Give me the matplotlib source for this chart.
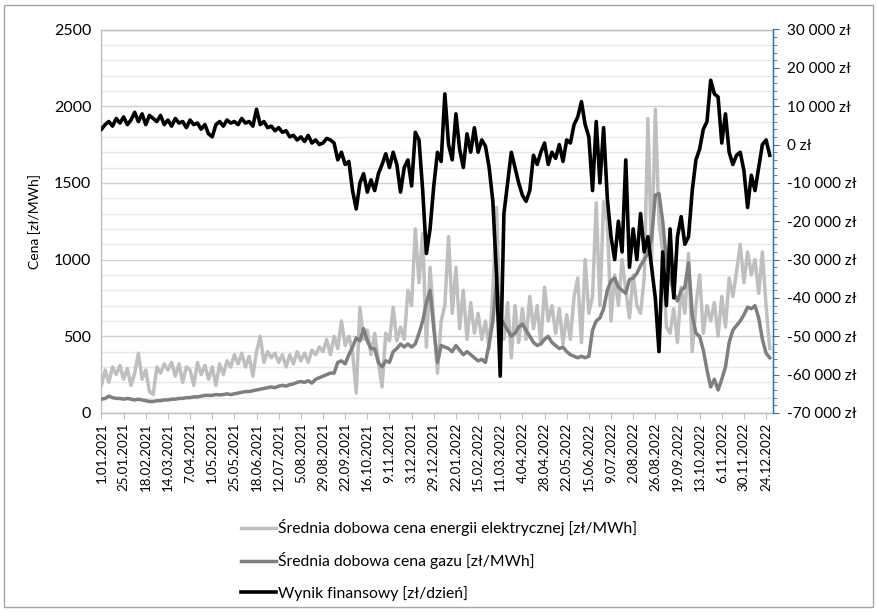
import matplotlib
matplotlib.use("Agg")
import matplotlib.pyplot as plt
from matplotlib.patches import Rectangle
from matplotlib.ticker import MultipleLocator, FuncFormatter

plt.rcParams['font.family'] = ['Lato', 'DejaVu Sans']

# Category labels (one every 24 daily categories)
tick_labels = ["1.01.2021", "25.01.2021", "18.02.2021", "14.03.2021", "7.04.2021",
               "1.05.2021", "25.05.2021", "18.06.2021", "12.07.2021", "5.08.2021",
               "29.08.2021", "22.09.2021", "16.10.2021", "9.11.2021", "3.12.2021",
               "29.12.2021", "22.01.2022", "15.02.2022", "11.03.2022", "4.04.2022",
               "28.04.2022", "22.05.2022", "15.06.2022", "9.07.2022", "2.08.2022",
               "26.08.2022", "19.09.2022", "13.10.2022", "6.11.2022", "30.11.2022",
               "24.12.2022"]
n_categories = 728
sample_step = 4  # values read every 4th day

# Średnia dobowa cena energii elektrycznej [zł/MWh]
energia = [180, 280, 200, 300, 250, 310, 220, 290, 180, 260,
           390, 220, 280, 140, 120, 300, 260, 320, 280, 330,
           240, 320, 200, 300, 280, 180, 330, 250, 310, 220,
           300, 180, 320, 250, 340, 300, 380, 320, 390, 300,
           370, 240, 400, 500, 330, 400, 360, 390, 330, 380,
           300, 380, 320, 400, 340, 390, 330, 410, 380, 430,
           400, 480, 380, 500, 420, 600, 440, 500, 400, 130,
           690, 480, 540, 380, 520, 330, 170, 520, 470, 690,
           470, 560, 480, 800, 700, 1200, 850, 1170, 430, 950,
           600, 260, 600, 700, 1150, 650, 950, 550, 800, 480,
           720, 520, 650, 480, 600, 420, 800, 1340, 560, 480,
           720, 360, 700, 460, 680, 480, 760, 550, 700, 450,
           820, 600, 700, 520, 680, 450, 640, 480, 760, 880,
           460, 1000, 650, 760, 1370, 700, 1380, 1250, 600, 900,
           700, 1000, 800, 620, 900, 700, 650, 880, 1920, 1000,
           1980, 1250, 1050, 560, 520, 680, 460, 820, 650, 1040,
           400, 700, 900, 520, 700, 600, 720, 500, 760, 560,
           880, 760, 920, 1100, 850, 1050, 900, 1000, 780, 1050,
           700, 420]

# Średnia dobowa cena gazu [zł/MWh]
gaz = [90, 95, 110, 100, 95, 95, 90, 95, 90, 85,
       90, 85, 80, 75, 75, 80, 80, 85, 85, 90,
       90, 95, 95, 100, 100, 105, 105, 110, 115, 115,
       115, 120, 118, 120, 125, 120, 125, 130, 135, 140,
       140, 145, 150, 155, 160, 165, 170, 165, 175, 180,
       175, 185, 190, 200, 205, 200, 210, 195, 220, 230,
       240, 250, 260, 260, 330, 340, 320, 380, 430, 490,
       470, 550, 470, 420, 420, 330, 300, 340, 330, 400,
       420, 450, 430, 450, 430, 450, 520, 600, 720, 800,
       550, 330, 440, 430, 420, 400, 440, 410, 380, 400,
       380, 360, 340, 350, 330, 450, 600, 850, 620, 580,
       540, 500, 520, 560, 580, 540, 500, 460, 440, 450,
       480, 500, 460, 440, 420, 430, 400, 380, 370, 360,
       370, 360, 370, 540, 600, 620, 680, 800, 860, 880,
       820, 800, 780, 870, 880, 910, 960, 1000, 1040, 1140,
       1420, 1430, 1250, 1000, 890, 780, 730, 800, 820, 980,
       640, 520, 500, 410, 280, 170, 220, 150, 220, 300,
       460, 540, 570, 600, 640, 690, 680, 700, 620, 480,
       390, 360]

# Wynik finansowy [zł/dzień]
wynik = [4000, 5200, 6000, 4800, 6800, 5600, 7200, 5200, 6400, 8400,
         6000, 8000, 5200, 7600, 6800, 6000, 7600, 5200, 6400, 4800,
         6800, 5600, 6000, 4400, 6400, 5200, 5600, 4000, 5200, 2800,
         2000, 5200, 6000, 4800, 6400, 5600, 6000, 5200, 6800, 5600,
         6000, 4800, 9200, 5200, 6000, 4400, 4800, 3600, 4400, 3200,
         3600, 2000, 2400, 1200, 2000, 800, 2400, 400, 1200, 0,
         400, 1600, 1200, 400, -4000, -2000, -5200, -4400, -12000, -16800,
         -10000, -7600, -12400, -9200, -12000, -7600, -5200, -2400, -6000, -2000,
         -5200, -12400, -6000, -4000, -10800, 3200, 1200, -12000, -28400, -22000,
         -10800, -2000, -4400, 13200, 0, -4000, 8000, -1200, -6000, 2800,
         -2000, 4400, -2000, 1200, -400, -6000, -14800, -34000, -60400, -18000,
         -10000, -2000, -6000, -10000, -13200, -14800, -12000, -2800, -5200, -2000,
         400, -5200, -2000, -3600, 0, -4400, 1200, 400, 5200, 7200,
         11200, 5200, 2000, -12000, 6000, -10000, 4400, -14000, -24000, -30000,
         -20000, -28000, -4000, -32000, -22000, -30000, -18000, -28000, -24000, -32000,
         -40000, -54000, -28000, -42000, -22000, -40000, -24000, -18800, -26000, -24000,
         -12000, -4000, -1200, 4000, 6000, 16800, 13200, 12400, 400, 8000,
         -2000, -5200, -2800, -2000, -6800, -16400, -8000, -12000, -6000, 0,
         1200, -2800]

series_names = ["Średnia dobowa cena energii elektrycznej [zł/MWh]",
                "Średnia dobowa cena gazu [zł/MWh]",
                "Wynik finansowy [zł/dzień]"]

W, H = 877, 612
fig = plt.figure(figsize=(W / 100, H / 100), dpi=100)

# outer chart border
fig.patches.append(Rectangle((4 / W, 5 / H), 869 / W, 602 / H, transform=fig.transFigure,
                             fill=False, edgecolor="#A6A6A6", linewidth=1.0))

left, right, top, bottom = 101, 773, 29.5, 413
ax = fig.add_axes([left / W, 1 - bottom / H, (right - left) / W, (bottom - top) / H])
ax2 = ax.twinx()

xs = [i * sample_step for i in range(len(energia))]

l1, = ax.plot(xs, energia, color="#BFBFBF", lw=2.5, solid_joinstyle="round", zorder=3)
l2, = ax.plot(xs, gaz, color="#7F7F7F", lw=2.5, solid_joinstyle="round", zorder=4)
l3, = ax2.plot(xs, wynik, color="#000000", lw=2.6, solid_joinstyle="round", zorder=5)

ax.set_xlim(-0.5, n_categories - 0.5)
ax.set_ylim(0, 2500)
ax2.set_ylim(-70000, 30000)

ax.yaxis.set_major_locator(MultipleLocator(500))
ax.yaxis.set_minor_locator(MultipleLocator(100))
ax.grid(which="major", axis="y", color="#D0D0D0", lw=1.0)
ax.grid(which="minor", axis="y", color="#E8E8E8", lw=1.0)
ax.set_axisbelow(True)
ax.tick_params(axis="y", which="both", length=0, labelsize=11.5, pad=7, colors="#000000")

ax.set_xticks([i * 24 for i in range(len(tick_labels))])
ax.set_xticklabels(tick_labels, rotation=90, fontsize=9.6)
ax.tick_params(axis="x", length=4, color="#BFBFBF", pad=3)

for s in ["left", "top", "bottom", "right"]:
    ax.spines[s].set_color("#BFBFBF")
    ax.spines[s].set_linewidth(1.0)
for s in ["left", "top", "bottom"]:
    ax2.spines[s].set_visible(False)
ax2.spines["right"].set_color("#2E75B6")
ax2.spines["right"].set_linewidth(1.0)

ax2.yaxis.set_major_locator(MultipleLocator(10000))
ax2.yaxis.set_minor_locator(MultipleLocator(2000))
ax2.yaxis.set_major_formatter(FuncFormatter(
    lambda v, p: ("-" if v < 0 else "") + f"{abs(int(round(v))):,}".replace(",", " ") + " zł"))
ax2.tick_params(axis="y", which="major", length=4, color="#2E75B6", labelsize=11, pad=6)
ax2.tick_params(axis="y", which="minor", length=3, color="#2E75B6")

ax.set_ylabel("Cena [zł/MWh]", fontsize=10, labelpad=9)

fig.legend([l1, l2, l3], series_names, loc="upper left",
           bbox_to_anchor=(241 / W, 1 - 519 / H), frameon=False, fontsize=11.3,
           handlelength=2.2, handletextpad=0.15, labelspacing=1.05, borderpad=0,
           borderaxespad=0)

fig.savefig("out.png", dpi=100)
